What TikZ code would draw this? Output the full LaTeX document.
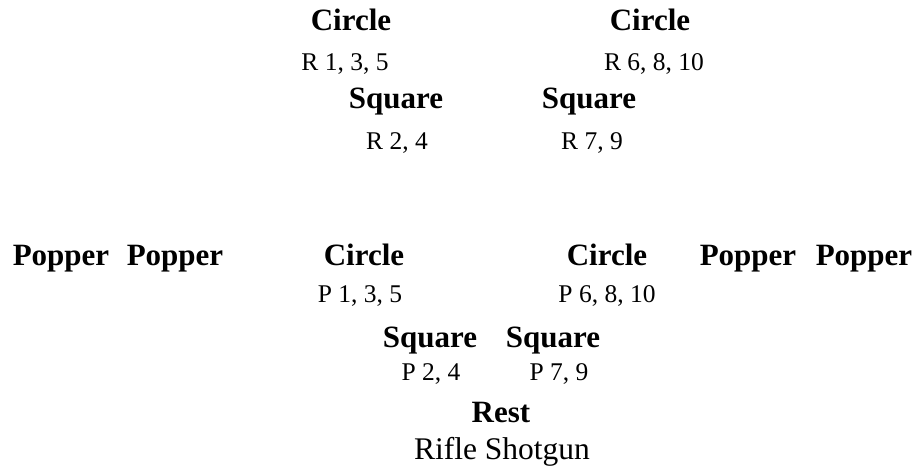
\documentclass[tikz,border=0pt]{standalone}
\usepackage{fontspec}
\setmainfont{Liberation Serif}
\begin{document}
\begin{tikzpicture}[x=1pt,y=-1pt,
  every node/.style={inner sep=0pt,outer sep=0pt,anchor=base},
  head/.style={font=\fontsize{31}{31}\selectfont\bfseries},
  sub/.style={font=\fontsize{25.5}{25.5}\selectfont},
  big/.style={font=\fontsize{31.5}{31.5}\selectfont}]
\useasboundingbox (0,0) rectangle (914,467);
% top group
\node[head] (rc1) at (351,30) {Circle};
\node[sub]  (rr1) at (345,70) {R 1, 3, 5};
\node[head] (rc2) at (650,30) {Circle};
\node[sub]  (rr2) at (654,70) {R 6, 8, 10};
\node[head] (rs1) at (396,108) {Square};
\node[sub]  (rr3) at (397,149) {R 2, 4};
\node[head] (rs2) at (589,108) {Square};
\node[sub]  (rr4) at (592,149) {R 7, 9};
% bottom group
\node[head] (pp1) at (61,265) {Popper};
\node[head] (pp2) at (175,265) {Popper};
\node[head] (pc1) at (364,265) {Circle};
\node[head] (pc2) at (607,265) {Circle};
\node[head] (pp3) at (748,265) {Popper};
\node[head] (pp4) at (864,265) {Popper};
\node[sub]  (pr1) at (360,302) {P 1, 3, 5};
\node[sub]  (pr2) at (607,302) {P 6, 8, 10};
\node[head] (ps1) at (430,347) {Square};
\node[head] (ps2) at (553,347) {Square};
\node[sub]  (pr3) at (431,380) {P 2, 4};
\node[sub]  (pr4) at (559,380) {P 7, 9};
\node[head] (rest) at (501,422) {Rest};
\node[big]  (rs) at (502,459) {Rifle Shotgun};
\end{tikzpicture}
\end{document}
